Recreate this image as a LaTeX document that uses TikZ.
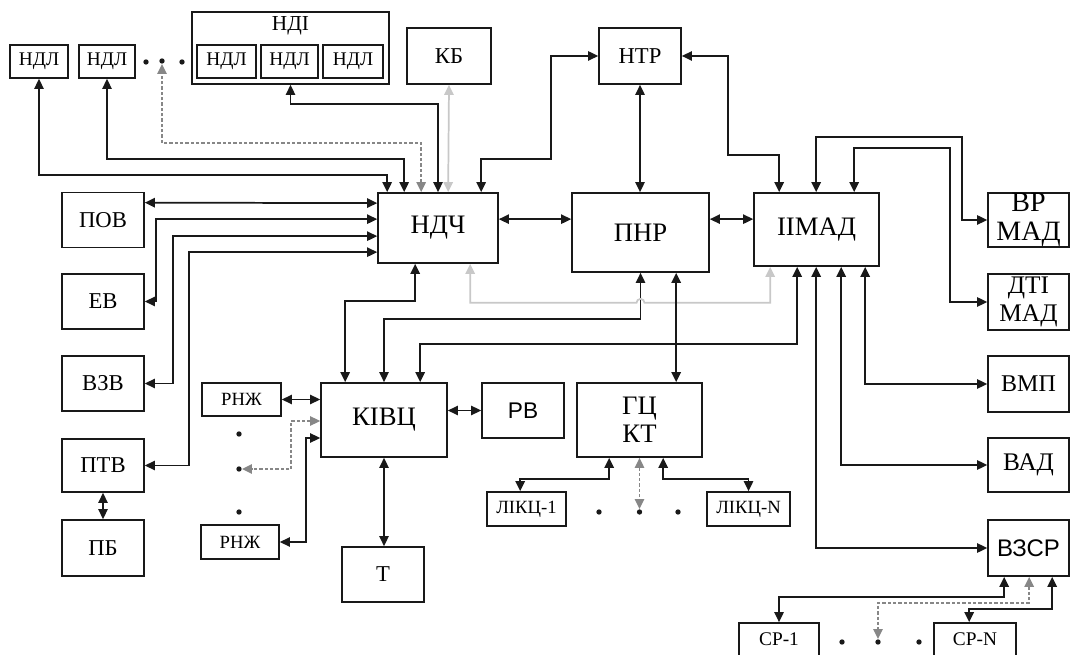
\documentclass[tikz,border=0pt]{standalone}
\usepackage{fontspec}
\setmainfont{Liberation Serif}
\newfontfamily\sansfnt{Liberation Sans}
\usepackage{xcolor}
\definecolor{ink}{RGB}{25,25,25}
\definecolor{faint}{RGB}{200,200,200}
\definecolor{dashgray}{RGB}{135,135,135}
\usepackage{tikz}
\usetikzlibrary{
    arrows.meta,
    positioning,
    calc
}

\begin{document}
\begin{tikzpicture}[
        x=0.75pt, y=-0.75pt,
        >={Triangle[length=7.5pt,width=7pt]},
        blk/.style={rectangle, draw=ink, line width=1.3pt, inner sep=0pt, align=center, minimum width=61.5pt, minimum height=41.25pt, font=\fontsize{17}{21}\selectfont},
        big/.style={blk, font=\fontsize{20}{24}\selectfont},
        sml/.style={blk, minimum width=#1, minimum height=24.75pt, font=\fontsize{14.5}{16}\selectfont},
        sml/.default=43.5pt,
        dot/.style={circle, fill=ink, inner sep=0pt, minimum size=4pt},
        link/.style={<->, draw=ink, line width=1.3pt},
        faintlink/.style={<->, draw=faint, line width=1.3pt},
        dashlink/.style={<->, draw=dashgray, line width=1.3pt, dash pattern=on 2.5pt off 1.5pt}
    ]
        \useasboundingbox (0,0) rectangle (1070,655);

        \node[sml] (ndlA) at (39,61.5) {НДЛ};
        \node[sml=42pt] (ndlB) at (107,61.5) {НДЛ};
        \node[dot] (dotNa) at (146,62) {};
        \node[dot] (dotNb) at (162,61) {};
        \node[dot] (dotNc) at (182,62) {};
        \node[blk, minimum width=147.75pt, minimum height=54pt,
            label={[font=\fontsize{16}{18}\selectfont, anchor=north, inner sep=0pt, yshift=-3.5pt]north:НДІ}] (ndi) at (290.5,48) {};
        \node[sml=44.25pt] (ndlC) at (226.5,61.5) {НДЛ};
        \node[sml=42.75pt] (ndlD) at (289.5,61.5) {НДЛ};
        \node[sml=45pt] (ndlE) at (353,61.5) {НДЛ};
        \node[blk, minimum width=63pt, minimum height=42pt] (kb) at (449,56) {КБ};
        \node[blk, minimum height=42pt] (ntr) at (640,56) {НТР};

        \node[blk] (pov) at (103,220) {ПОВ};
        \node[blk] (ev) at (103,301.5) {ЕВ};
        \node[blk] (vzv) at (103,383.5) {ВЗВ};
        \node[blk, minimum height=39.75pt] (ptv) at (103,465.5) {ПТВ};
        \node[blk, minimum height=42pt] (pb) at (103,548) {ПБ};

        \node[big, minimum width=90pt, minimum height=52.5pt] (ndch) at (438,228) {НДЧ};
        \node[big, minimum width=102.75pt, minimum height=59.25pt] (pnr) at (640.5,232.5) {ПНР};
        \node[big, minimum width=93.75pt, minimum height=54.75pt] (imad) at (816.5,229.5) {ІІМАД};

        \node[blk, minimum width=60.75pt, minimum height=40.5pt, font=\fontsize{21}{22}\selectfont] (vrmad) at (1028.5,220) {ВР\\МАД};
        \node[blk, minimum width=60.75pt, minimum height=42pt, font=\fontsize{19}{21}\selectfont] (dtimad) at (1028.5,302) {ДТІ\\МАД};
        \node[blk, minimum width=60.75pt, minimum height=42pt, font=\fontsize{18}{21}\selectfont] (vmp) at (1028.5,384) {ВМП};
        \node[blk, minimum width=60.75pt, minimum height=40.5pt, font=\fontsize{19}{21}\selectfont] (vad) at (1028.5,465) {ВАД};
        \node[blk, minimum width=60.75pt, minimum height=42pt, font=\sansfnt\fontsize{18}{21}\selectfont] (vzsr) at (1028.5,548) {ВЗСР};

        \node[sml=59.25pt, font=\fontsize{14}{16}\selectfont] (rnzhA) at (241.5,399.5) {РНЖ};
        \node[dot] (dotRa) at (239,434) {};
        \node[dot] (dotRb) at (239,469) {};
        \node[dot] (dotRc) at (239,512) {};
        \node[sml=58.5pt, minimum height=25.5pt, font=\fontsize{14}{16}\selectfont] (rnzhB) at (240,542) {РНЖ};
        \node[big, minimum width=94.5pt, minimum height=55.5pt] (kivc) at (384,420) {КІВЦ};
        \node[blk, font=\sansfnt\fontsize{17}{21}\selectfont] (rv) at (523,410.5) {РВ};
        \node[blk, minimum width=93.75pt, minimum height=55.5pt, font=\fontsize{20}{21}\selectfont] (gckt) at (639.5,420) {ГЦ\\КТ};
        \node[blk] (t) at (383,574.5) {Т};

        \node[sml=59.25pt, minimum height=25.5pt, font=\fontsize{14}{15}\selectfont] (likcA) at (526.5,509) {ЛІКЦ-1};
        \node[dot] (dotLa) at (599,512) {};
        \node[dot] (dotLb) at (639.5,512) {};
        \node[dot] (dotLc) at (678,512) {};
        \node[sml=62.25pt, minimum height=25.5pt, font=\fontsize{14}{15}\selectfont] (likcB) at (748.5,509) {ЛІКЦ-N};

        \node[sml=60pt] (srA) at (779,639.5) {СР-1};
        \node[dot] (dotSa) at (842,642) {};
        \node[dot] (dotSb) at (878,642) {};
        \node[dot] (dotSc) at (919,642) {};
        \node[sml=61.5pt] (srB) at (975,639.5) {СР-N};

        \draw[link] ($(ndch.north west)+(10,0)$) -- ++(0,-17) -| (ndlA.south);
        \draw[link] ($(ndch.north west)+(27,0)$) -- ++(0,-33) -| (ndlB.south);
        \draw[dashlink] ($(ndch.north west)+(44,0)$) -- ++(0,-49) -| (dotNb.south);
        \draw[link] (ndch.north) -- ++(0,-88) -| (ndi.south);
        \draw[faintlink] ($(ndch.north west)+(71,0)$) -- (kb.south);
        \draw[link] ($(ndch.north west)+(104,0)$) -- ++(0,-33) -| ($(ntr.west)+(-47,0)$) -- (ntr.west);
        \draw[link] (ntr.south) -- (ntr.south |- pnr.north);
        \draw[link] ($(imad.north west)+(26,0)$) -- ++(0,-37) -| ($(ntr.east)+(46,0)$) -- (ntr.east);

        \draw[link] ($(pov.north east)+(0,11)$) -- ($(ndch.north west)+(0,11)$);
        \draw[link] ($(ndch.north west)+(0,27)$) -| ($(ev.east)+(11,0)$) -- (ev.east);
        \draw[link] ($(ndch.north west)+(0,44)$) -| ($(vzv.east)+(28,0)$) -- (vzv.east);
        \draw[link] ($(ndch.north west)+(0,60)$) -| ($(ptv.east)+(44,0)$) -- (ptv.east);
        \draw[link] (ptv.south) -- (pb.north);

        \draw[link] ($(ndch.north east)+(0,27)$) -- ($(pnr.north west)+(0,27)$);
        \draw[link] ($(pnr.north east)+(0,27)$) -- ($(imad.north west)+(0,27)$);
        \draw[link] ($(imad.north west)+(63,0)$) -- ++(0,-55) -| ($(vrmad.west)+(-25,0)$) -- (vrmad.west);
        \draw[link] ($(imad.north west)+(101,0)$) -- ++(0,-44) -| ($(dtimad.west)+(-37,0)$) -- (dtimad.west);

        \draw[link] ($(ndch.south west)+(38,0)$) -- ++(0,37) -| ($(kivc.north west)+(25,0)$);
        \draw[link] (pnr.south) -- ++(0,46) -| (kivc.north);
        \draw[link] ($(imad.south west)+(44,0)$) -- ++(0,77) -| ($(kivc.north west)+(100,0)$);
        \draw[faintlink] ($(ndch.south west)+(93,0)$) -- ++(0,39) -- ($(pnr.south)+(-4,30)$)
            arc[start angle=180, end angle=360, radius=4] -| ($(imad.south west)+(17,0)$);
        \draw[link] ($(pnr.south west)+(105,0)$) -- ($(gckt.north west)+(100,0)$);

        \draw[link] ($(imad.south west)+(63,0)$) |- (vzsr.west);
        \draw[link] ($(imad.south west)+(88,0)$) |- (vad.west);
        \draw[link] ($(imad.south west)+(112,0)$) |- (vmp.west);

        \draw[link] ($(vzsr.south west)+(17,0)$) -- ++(0,20) -| (srA.north);
        \draw[dashlink] ($(vzsr.south west)+(42,0)$) -- ++(0,26) -| (dotSb.north);
        \draw[link] ($(vzsr.south west)+(65,0)$) -- ++(0,32) -| ($(srB.north west)+(36,0)$);

        \draw[link] ($(gckt.south west)+(33,0)$) -- ++(0,21) -| ($(likcA.north west)+(34,0)$);
        \draw[dashlink] (gckt.south) -- (dotLb.north);
        \draw[link] ($(gckt.south west)+(87,0)$) -- ++(0,21) -| (likcB.north);

        \draw[link] (kivc.east |- rv.west) -- (rv.west);
        \draw[link] (kivc.south) -- (kivc.south |- t.north);
        \draw[link] (rnzhA.east) -- (rnzhA.east -| kivc.west);
        \draw[link] ($(kivc.west)+(0,18)$) -- ++(-14,0) |- (rnzhB.east);
        \draw[dashlink] ($(kivc.west)+(0,1)$) -- ++(-29,0) |- (dotRb.east);
    \end{tikzpicture}
\end{document}
